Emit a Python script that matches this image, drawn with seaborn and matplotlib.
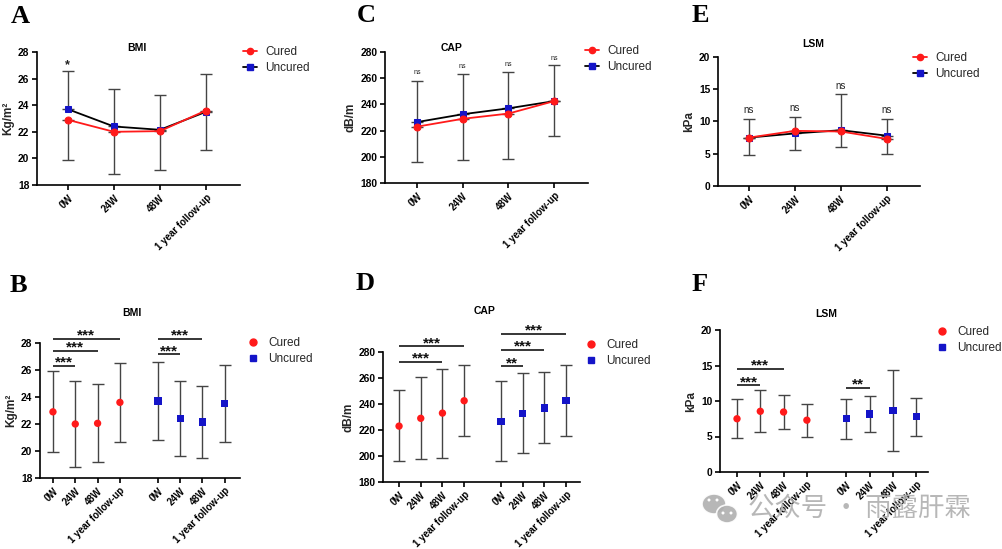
import numpy as np
import pandas as pd
import matplotlib
matplotlib.use('Agg')
import matplotlib.pyplot as plt
import seaborn as sns
from matplotlib.lines import Line2D
from matplotlib.patches import Ellipse

sns.set_theme(style='ticks')
plt.rcParams['font.family'] = ['Liberation Sans', 'Noto Sans CJK SC', 'DejaVu Sans']

# ---------------- data ----------------
timepoints = ['0W', '24W', '48W', '1 year follow-up']
groups = ['Cured', 'Uncured']

bmi_cured_mean = [22.9, 22.0, 22.05, 23.6]
bmi_cured_low = [19.9, 18.85, 19.15, 20.65]
bmi_cured_high = [25.95, 25.15, 25.0, 26.55]
bmi_uncured_mean = [23.7, 22.4, 22.15, 23.5]
bmi_uncured_low = [20.8, 19.6, 19.45, 20.7]
bmi_uncured_high = [26.6, 25.2, 24.8, 26.35]

cap_cured_mean = [223, 229, 233, 242.5]
cap_cured_low = [196, 197.5, 198.5, 215.5]
cap_cured_high = [250.5, 261, 267, 270]
cap_uncured_mean = [226.5, 232.5, 237, 242.5]
cap_uncured_low = [196.5, 202, 210, 215.5]
cap_uncured_high = [257.5, 263.5, 264.5, 270]

lsm_cured_mean = [7.5, 8.55, 8.45, 7.3]
lsm_cured_low = [4.8, 5.6, 6.0, 5.0]
lsm_cured_high = [10.25, 11.5, 10.9, 9.55]
lsm_uncured_mean = [7.5, 8.15, 8.65, 7.8]
lsm_uncured_low = [4.7, 5.6, 2.9, 5.1]
lsm_uncured_high = [10.35, 10.75, 14.3, 10.4]

# between-group annotations (top row): label, height per timepoint
bmi_between_labels = ['*', '', '', '']
bmi_between_y = [27.3, 0, 0, 0]
cap_between_labels = ['ns', 'ns', 'ns', 'ns']
cap_between_y = [264.8, 269.3, 270.6, 275.7]
lsm_between_labels = ['ns', 'ns', 'ns', 'ns']
lsm_between_y = [11.75, 12.0, 15.4, 11.75]

# within-group comparisons (bottom row): group, from, to, label, height
bmi_sig = [('Cured', 0, 1, '***', 26.3), ('Cured', 0, 2, '***', 27.4), ('Cured', 0, 3, '***', 28.3),
           ('Uncured', 0, 1, '***', 27.15), ('Uncured', 0, 2, '***', 28.3)]
cap_sig = [('Cured', 0, 2, '***', 272.3), ('Cured', 0, 3, '***', 284.4),
           ('Uncured', 0, 1, '**', 269.0), ('Uncured', 0, 2, '***', 281.8), ('Uncured', 0, 3, '***', 293.9)]
lsm_sig = [('Cured', 0, 1, '***', 12.2), ('Cured', 0, 2, '***', 14.5),
           ('Uncured', 0, 1, '**', 11.85)]

# ---------------- styling ----------------
W, H = 1003, 549
RED = '#FF1A1A'
BLUE = '#1414C8'
EC = '#444444'
GROUP_OFFSET = 4.7
YTICKFS = 7.4
XTICKFS = 7.0

fig = plt.figure(figsize=(W / 100, H / 100), dpi=100)
fig.patch.set_facecolor('white')


def add_ax(l, r, t, b):
    return fig.add_axes([l / W, 1 - b / H, (r - l) / W, (b - t) / H])


def ftext(x, y, s, **kw):
    return fig.text(x / W, 1 - y / H, s, **kw)


def style_axes(ax, yticks, ylabel, xlim):
    sns.despine(ax=ax)
    ax.set_facecolor('white')
    for sp in ['left', 'bottom']:
        ax.spines[sp].set_linewidth(1.2)
        ax.spines[sp].set_color('black')
    ax.set_ylim(yticks[0], yticks[-1])
    ax.set_yticks(yticks)
    ax.set_xlim(*xlim)
    ax.tick_params(axis='both', direction='out', length=3.5, width=1.2, colors='black', pad=2)
    ax.tick_params(axis='y', labelsize=YTICKFS)
    for lab in ax.get_yticklabels():
        lab.set_fontweight('bold')
    ax.set_ylabel(ylabel, fontsize=8.5, fontweight='bold', labelpad=3)
    ax.set_xlabel('')
    ax.grid(False)


def set_xlabels(ax, pos, labels):
    ax.set_xticks(pos)
    ax.set_xticklabels(labels, rotation=45, ha='right', rotation_mode='anchor',
                       fontsize=XTICKFS, fontweight='bold')


def legend(ax, x0, y0, lines=True):
    if lines:
        hs = [Line2D([], [], color=RED, marker='o', markersize=4.5, markerfacecolor=RED,
                     markeredgecolor=RED, lw=1.3),
              Line2D([], [], color='black', marker='s', markersize=4.5, markerfacecolor=BLUE,
                     markeredgecolor=BLUE, lw=1.3)]
    else:
        hs = [Line2D([], [], color=RED, marker='o', markersize=5, lw=0, markeredgecolor=RED),
              Line2D([], [], color=BLUE, marker='s', markersize=5, lw=0, markeredgecolor=BLUE)]
    ax.legend(hs, groups, loc='upper left', bbox_to_anchor=(x0 / W, 1 - y0 / H),
              bbox_transform=fig.transFigure, frameon=False, borderpad=0, borderaxespad=0,
              handlelength=1.2, handletextpad=0.7, labelspacing=0.36, fontsize=8.5)


def top_panel(ax, cm, cl, ch, um, ul, uh, btw_lab, btw_y, btw_fs):
    x = np.arange(len(timepoints))
    cm, cl, um, uh = map(np.asarray, (cm, cl, um, uh))
    ax.errorbar(x, um, yerr=[np.zeros_like(um), uh - um], fmt='none', ecolor=EC,
                elinewidth=1, capsize=4, capthick=1, zorder=1)
    ax.errorbar(x, cm, yerr=[cm - cl, np.zeros_like(cm)], fmt='none', ecolor=EC,
                elinewidth=1, capsize=4, capthick=1, zorder=1)
    sns.lineplot(x=x, y=um, ax=ax, color='black', lw=1.3, marker='s', markersize=5,
                 markerfacecolor=BLUE, markeredgecolor=BLUE, zorder=3, legend=False)
    sns.lineplot(x=x, y=cm, ax=ax, color=RED, lw=1.3, marker='o', markersize=5,
                 markerfacecolor=RED, markeredgecolor=RED, zorder=4, legend=False)
    for xi, lab, yv in zip(x, btw_lab, btw_y):
        if lab:
            off = -0.57 * btw_fs if '*' in lab else -0.27 * btw_fs
            ax.annotate(lab, (xi, yv), xytext=(0, off), textcoords='offset points',
                        ha='center', va='baseline', fontsize=btw_fs, color='#222222',
                        fontweight='bold' if '*' in lab else 'normal', annotation_clip=False)
    return x


def bottom_panel(ax, cm, cl, ch, um, ul, uh, sig):
    n = len(timepoints)
    df = pd.DataFrame({
        'group': ['Cured'] * n + ['Uncured'] * n,
        'time': timepoints * 2,
        'pos': list(np.arange(n)) + list(np.arange(n) + GROUP_OFFSET),
        'mean': list(cm) + list(um),
        'low': list(cl) + list(ul),
        'high': list(ch) + list(uh),
    })
    ax.errorbar(df['pos'], df['mean'], yerr=[df['mean'] - df['low'], df['high'] - df['mean']],
                fmt='none', ecolor=EC, elinewidth=1, capsize=4, capthick=1, zorder=1)
    sns.scatterplot(data=df, x='pos', y='mean', hue='group', style='group',
                    palette={'Cured': RED, 'Uncured': BLUE},
                    markers={'Cured': 'o', 'Uncured': 's'}, s=28, linewidth=0,
                    ax=ax, legend=False, zorder=3)
    for g, i, j, lab, yv in sig:
        base = 0 if g == 'Cured' else GROUP_OFFSET
        ax.plot([base + i, base + j], [yv, yv], color='black', lw=1.1, clip_on=False,
                solid_capstyle='butt')
        ax.annotate(lab, ((base + i + base + j) / 2, yv), xytext=(0, -0.5),
                    textcoords='offset points', ha='center', va='baseline',
                    fontsize=11, fontweight='bold', color='#111111', annotation_clip=False)
    return df['pos'].tolist()


# ---------------- top row ----------------
axA = add_ax(37, 240, 52, 185)
x = top_panel(axA, bmi_cured_mean, bmi_cured_low, bmi_cured_high,
              bmi_uncured_mean, bmi_uncured_low, bmi_uncured_high,
              bmi_between_labels, bmi_between_y, 9)
style_axes(axA, [18, 20, 22, 24, 26, 28], 'Kg/m²', (-0.67, 3.74))
set_xlabels(axA, x, timepoints)
legend(axA, 243, 46)

axC = add_ax(385, 588, 52, 183)
x = top_panel(axC, cap_cured_mean, cap_cured_low, cap_cured_high,
              cap_uncured_mean, cap_uncured_low, cap_uncured_high,
              cap_between_labels, cap_between_y, 5)
style_axes(axC, [180, 200, 220, 240, 260, 280], 'dB/m', (-0.70, 3.74))
set_xlabels(axC, x, timepoints)
legend(axC, 585, 45)

axE = add_ax(718, 920, 57, 186)
x = top_panel(axE, lsm_cured_mean, lsm_cured_low, lsm_cured_high,
              lsm_uncured_mean, lsm_uncured_low, lsm_uncured_high,
              lsm_between_labels, lsm_between_y, 7)
style_axes(axE, [0, 5, 10, 15, 20], 'kPa', (-0.67, 3.72))
set_xlabels(axE, x, timepoints)
legend(axE, 913, 52)

# ---------------- bottom row ----------------
axB = add_ax(40, 240, 343, 478)
pos = bottom_panel(axB, bmi_cured_mean, bmi_cured_low, bmi_cured_high,
                   bmi_uncured_mean, bmi_uncured_low, bmi_uncured_high, bmi_sig)
style_axes(axB, [18, 20, 22, 24, 26, 28], 'Kg/m²', (-0.58, 8.38))
set_xlabels(axB, pos, timepoints * 2)
legend(axB, 246, 337, lines=False)

axD = add_ax(383, 580, 352, 482)
pos = bottom_panel(axD, cap_cured_mean, cap_cured_low, cap_cured_high,
                   cap_uncured_mean, cap_uncured_low, cap_uncured_high, cap_sig)
style_axes(axD, [180, 200, 220, 240, 260, 280], 'dB/m', (-0.74, 8.34))
set_xlabels(axD, pos, timepoints * 2)
legend(axD, 584, 339, lines=False)

axF = add_ax(720, 928, 330, 472)
pos = bottom_panel(axF, lsm_cured_mean, lsm_cured_low, lsm_cured_high,
                   lsm_uncured_mean, lsm_uncured_low, lsm_uncured_high, lsm_sig)
style_axes(axF, [0, 5, 10, 15, 20], 'kPa', (-0.73, 8.2))
set_xlabels(axF, pos, timepoints * 2)
legend(axF, 935, 326, lines=False)

# ---------------- titles & panel letters ----------------
title_kw = dict(ha='center', va='baseline', fontsize=7.5, fontweight='bold', color='black')
for (tx, ty, s) in [(137, 51, 'BMI'), (452, 51, 'CAP'), (813, 47, 'LSM'),
                    (132, 316, 'BMI'), (485, 314, 'CAP'), (826, 317, 'LSM')]:
    ftext(tx, ty, s, **title_kw)

letter_kw = dict(ha='left', va='baseline', fontsize=19, fontweight='bold',
                 family='Liberation Serif', color='black')
for (lx, ly, s) in [(11, 23, 'A'), (10, 292, 'B'), (357, 22, 'C'),
                    (356, 290, 'D'), (692, 22, 'E'), (692, 291, 'F')]:
    ftext(lx, ly, s, **letter_kw)

# ---------------- watermark ----------------
wm_color = '#b0b0b0'
for (cx, cy, w, h) in [(714, 504, 24, 20), (727, 514, 21, 18)]:
    fig.patches.append(Ellipse((cx / W, 1 - cy / H), w / W, h / H, transform=fig.transFigure,
                               facecolor=wm_color, edgecolor='white', lw=1.2, alpha=0.9, zorder=20))
for (ex, ey) in [(709, 500), (717, 500), (723, 513), (731, 513)]:
    fig.patches.append(Ellipse((ex / W, 1 - ey / H), 3 / W, 3 / H, transform=fig.transFigure,
                               facecolor='white', edgecolor='none', zorder=21))
ftext(748, 508, '公众号 · 雨露肝霖', ha='left', va='center', fontsize=19,
      family=['Noto Sans CJK SC', 'DejaVu Sans'], color=wm_color, alpha=0.9, zorder=20)

fig.savefig('out.png', dpi=100, facecolor='white')
